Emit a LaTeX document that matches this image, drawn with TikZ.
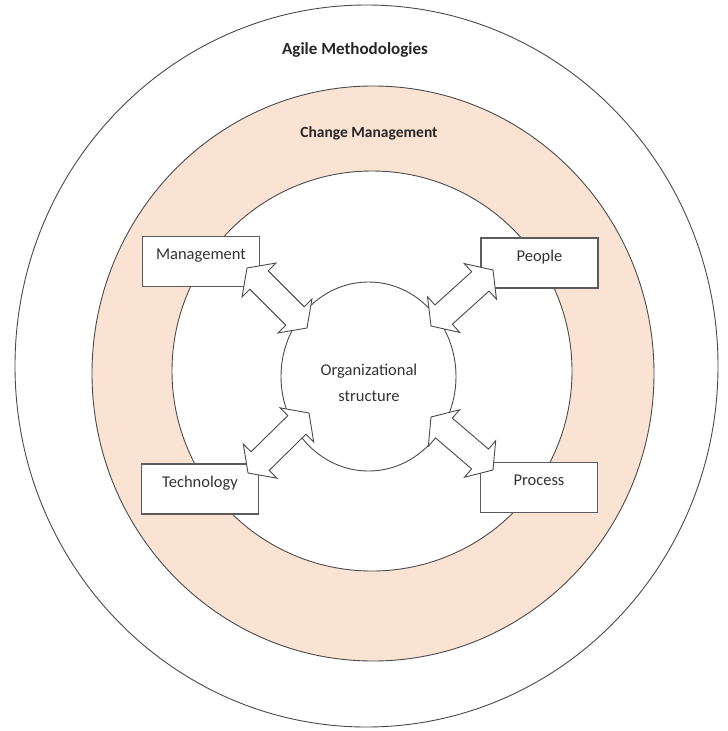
\documentclass[tikz,border=0pt]{standalone}
\usepackage{fontspec}
\setmainfont{Carlito}
\usetikzlibrary{calc,shapes.geometric}
\definecolor{peach}{HTML}{FBE3D3}
\definecolor{lin}{HTML}{4A4A4A}
\definecolor{txt}{HTML}{333333}
\newcommand\ah{17pt}
\newcommand\hw{24pt}
\newcommand\sw{13pt}
\newcommand\blockarr[2]{%
  \draw[barrow] (#1)
    -- ($(#1)!\ah!(#2)!\hw!90:(#2)$)
    -- ($(#1)!\ah!(#2)!\sw!90:(#2)$)
    -- ($(#2)!\ah!(#1)!\sw!-90:(#1)$)
    -- ($(#2)!\ah!(#1)!\hw!-90:(#1)$)
    -- (#2)
    -- ($(#2)!\ah!(#1)!\hw!90:(#1)$)
    -- ($(#2)!\ah!(#1)!\sw!90:(#1)$)
    -- ($(#1)!\ah!(#2)!\sw!-90:(#2)$)
    -- ($(#1)!\ah!(#2)!\hw!-90:(#2)$)
    -- cycle;}
\begin{document}
\begin{tikzpicture}[x=1pt,y=-1pt,
  ring/.style={draw=lin,line width=0.9pt},
  box/.style={draw=lin!90,line width=1.1pt,fill=white,minimum width=117pt,minimum height=50pt,
    inner sep=0pt,text height=10pt,text depth=14pt,text=txt,font=\fontsize{16.5}{20}\selectfont},
  barrow/.style={draw=lin,line width=0.9pt,fill=white,line join=miter},
  title/.style={font=\fontsize{17}{20}\selectfont\bfseries,text=black!85}]
\useasboundingbox (0,0) rectangle (728,731);
\fill[white] (0,0) rectangle (728,731);
% rings
\draw[ring,fill=white] (366.5,366) ellipse [x radius=351.5pt,y radius=361pt];
\draw[ring,fill=peach] (373,373.5) ellipse [x radius=281pt,y radius=287.5pt];
\draw[ring,fill=white] (372,371) circle [radius=200pt];
% titles
\node[title] (agile) at (355,50) {Agile Methodologies};
\node[title,font=\fontsize{15.5}{20}\selectfont\bfseries] (change) at (369,133) {Change Management};
% boxes
\node[box] (mgmt) at (201,261.5) {Management};
\node[box] (people) at (539.5,263) {People};
\node[box] (tech) at (200,489) {Technology};
\node[box] (proc) at (539,487.5) {Process};
% centre
\node[ellipse,draw=lin,line width=0.9pt,fill=white,minimum width=175pt,minimum height=189pt,inner sep=0pt] (org) at (368.5,376.5) {};
\node[align=center,text=txt,font=\fontsize{16.5}{26}\selectfont] (orgtxt) at (369,383) {Organizational\\structure};
% arrow end points
\coordinate (m1) at (307,328); \coordinate (m2) at (247,268);
\coordinate (p1) at (431,326); \coordinate (p2) at (493,270);
\coordinate (t1) at (309,413); \coordinate (t2) at (248,473);
\coordinate (r1) at (431,417); \coordinate (r2) at (493,470);
\blockarr{m1}{m2}
\blockarr{p1}{p2}
\blockarr{t1}{t2}
\blockarr{r1}{r2}
\end{tikzpicture}
\end{document}
